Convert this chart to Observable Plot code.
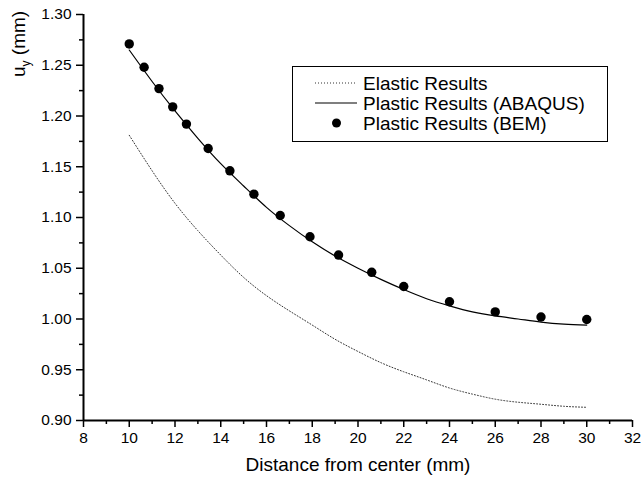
<!DOCTYPE html>
<html>
<head>
<meta charset="utf-8">
<script src="https://cdn.jsdelivr.net/npm/d3@7"></script>
<script src="https://cdn.jsdelivr.net/npm/@observablehq/plot@0.6"></script>
<style>
  html, body { margin: 0; padding: 0; background: #fff; }
  #chart svg { font-family: Arial, "Liberation Sans", sans-serif; }
</style>
</head>
<body>
<div id="chart"></div>
<script>
// Elastic results (dotted line)
const elasticX = [10, 11, 12, 13, 14, 15, 16, 17, 18, 19, 20, 21, 22, 23, 24, 25, 26, 27, 28, 29, 30];
const elasticY = [1.181, 1.146, 1.114, 1.087, 1.063, 1.041, 1.023, 1.008, 0.994, 0.980, 0.968, 0.957, 0.948, 0.940, 0.932, 0.926, 0.921, 0.918, 0.916, 0.914, 0.913];

// Plastic results (ABAQUS) (solid line)
const abaqusX = [10, 11, 12, 13, 14, 15, 16, 17, 18, 19, 20, 21, 22, 23, 24, 25, 26, 27, 28, 29, 30];
const abaqusY = [1.265, 1.234, 1.205, 1.178, 1.153, 1.131, 1.110, 1.092, 1.076, 1.062, 1.050, 1.039, 1.029, 1.020, 1.013, 1.007, 1.003, 1.000, 0.997, 0.995, 0.994];

// Plastic results (BEM) (dots)
const bemX = [10, 10.65, 11.3, 11.9, 12.5, 13.45, 14.4, 15.45, 16.6, 17.9, 19.15, 20.6, 22, 24, 26, 28, 30];
const bemY = [1.271, 1.248, 1.227, 1.209, 1.192, 1.168, 1.146, 1.123, 1.102, 1.081, 1.063, 1.046, 1.032, 1.017, 1.007, 1.002, 0.9995];

const xMajor = [8, 10, 12, 14, 16, 18, 20, 22, 24, 26, 28, 30, 32];
const xMinor = [9, 11, 13, 15, 17, 19, 21, 23, 25, 27, 29, 31];
const yMajor = [0.90, 0.95, 1.00, 1.05, 1.10, 1.15, 1.20, 1.25, 1.30];
const yMinor = [0.925, 0.975, 1.025, 1.075, 1.125, 1.175, 1.225, 1.275];

const legendLabels = ["Elastic Results", "Plastic Results (ABAQUS)", "Plastic Results (BEM)"];
const xTitle = "Distance from center (mm)";

const elastic = elasticX.map((x, i) => ({x, y: elasticY[i]}));
const abaqus = abaqusX.map((x, i) => ({x, y: abaqusY[i]}));
const bem = bemX.map((x, i) => ({x, y: bemY[i]}));

const plot = Plot.plot({
  width: 641,
  height: 482,
  marginLeft: 83,
  marginRight: 9,
  marginTop: 14,
  marginBottom: 62,
  style: {fontFamily: 'Arial, "Liberation Sans", sans-serif', color: "#000", background: "#fff"},
  x: {domain: [8, 32]},
  y: {domain: [0.9, 1.3]},
  marks: [
    Plot.axisX({ticks: xMajor, tickSize: 7, tickPadding: 4, tickFormat: d => String(d), label: null, strokeWidth: 1.5}),
    Plot.axisX({ticks: xMinor, tickSize: 4, tickFormat: () => "", label: null, strokeWidth: 1.5}),
    Plot.axisY({ticks: yMajor, tickSize: 7, tickPadding: 5, tickFormat: d3.format(".2f"), label: null, strokeWidth: 1.5}),
    Plot.axisY({ticks: yMinor, tickSize: 4, tickFormat: () => "", label: null, strokeWidth: 1.5}),
    Plot.ruleY([0.9], {stroke: "#000", strokeWidth: 2}),
    Plot.ruleX([8], {stroke: "#000", strokeWidth: 2}),
    Plot.line(elastic, {x: "x", y: "y", curve: "natural", stroke: "#333", strokeWidth: 1, strokeDasharray: "1,2"}),
    Plot.line(abaqus, {x: "x", y: "y", curve: "natural", stroke: "#000", strokeWidth: 1.2}),
    Plot.dot(bem, {x: "x", y: "y", r: 4.7, fill: "#000", stroke: "none"}),
    Plot.text([xTitle], {frameAnchor: "bottom", dy: 50, text: d => d, fill: "#000"})
  ]
});

document.getElementById("chart").appendChild(plot);

const svg = d3.select(plot);
// font sizes
svg.selectAll('g[aria-label="x-axis tick label"], g[aria-label="y-axis tick label"]')
  .attr("font-size", 15.5).attr("fill", "#000");
svg.selectAll('g[aria-label="text"]').attr("font-size", 19);

// y-axis title with subscript
const yt = svg.append("text")
  .attr("transform", "translate(25,77) rotate(-90)")
  .attr("font-size", 19)
  .attr("fill", "#000")
  .attr("text-anchor", "start");
yt.append("tspan").text("u");
yt.append("tspan").attr("font-size", 12).attr("dy", 5).text("y");
yt.append("tspan").attr("dy", -5).text(" (mm)");

// legend
const lg = svg.append("g").attr("font-size", 19).attr("fill", "#000").attr("text-anchor", "start");
lg.append("rect").attr("x", 292.5).attr("y", 66.5).attr("width", 315).attr("height", 75)
  .attr("fill", "#fff").attr("stroke", "#000").attr("stroke-width", 1);
const rows = [83, 103, 123];
lg.append("line").attr("x1", 315).attr("x2", 357).attr("y1", rows[0]).attr("y2", rows[0])
  .attr("stroke", "#333").attr("stroke-width", 1).attr("stroke-dasharray", "1,2");
lg.append("line").attr("x1", 315).attr("x2", 357).attr("y1", rows[1]).attr("y2", rows[1])
  .attr("stroke", "#000").attr("stroke-width", 1.2);
lg.append("circle").attr("cx", 336.5).attr("cy", rows[2]).attr("r", 4.5).attr("fill", "#000");
legendLabels.forEach((t, i) => {
  lg.append("text").attr("x", 363).attr("y", rows[i]).attr("dy", "0.35em").text(t);
});
</script>
</body>
</html>
